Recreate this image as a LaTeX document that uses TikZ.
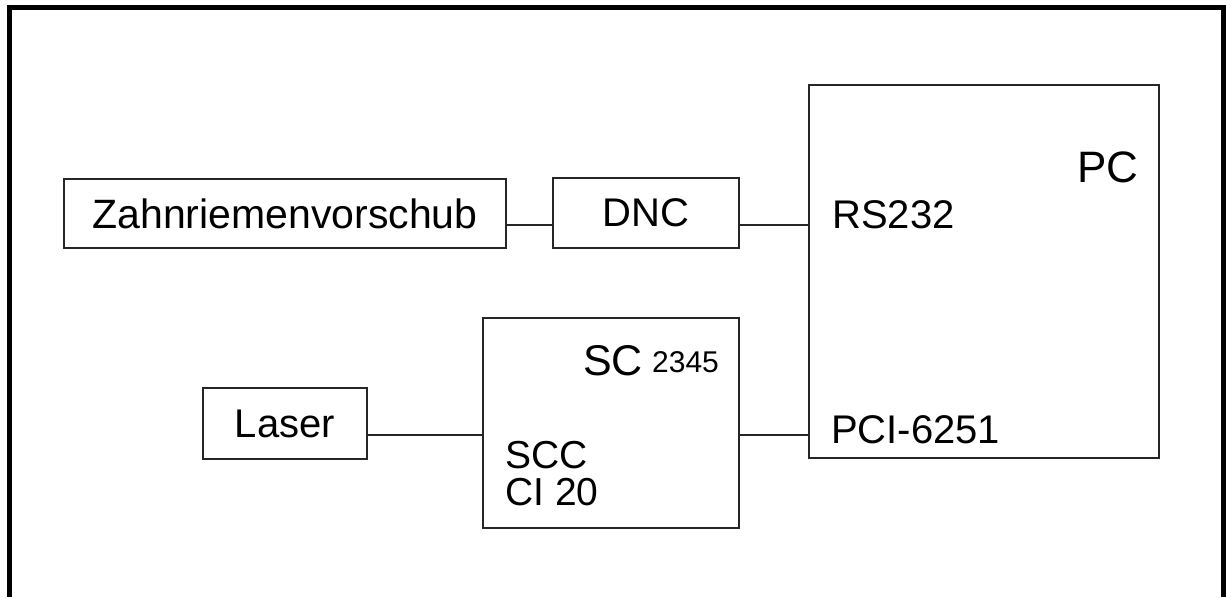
\documentclass[tikz,border=0pt]{standalone}
\usepackage{fontspec}
\setmainfont{Liberation Sans}
\begin{document}
\begin{tikzpicture}[x=1pt,y=-1pt,
  box/.style={draw=black!85, line width=1.5pt, inner sep=0pt, font=\fontsize{40}{48}\selectfont},
  lbl/.style={inner sep=0pt, anchor=base west, font=\fontsize{40}{48}\selectfont},
  wire/.style={draw=black!85, line width=1.5pt},
  frame/.style={line width=5pt}]
\useasboundingbox (0,0) rectangle (1226,597);
\draw[frame] (9.5,597) -- (9.5,7.5) -- (1223.5,7.5) -- (1223.5,597);
\node[box, minimum width=442pt, minimum height=69pt, font=\fontsize{41}{49}\selectfont] (zahn) at (285,213.5) {Zahnriemenvorschub};
\node[box, minimum width=186pt, minimum height=70pt] (dnc) at (646,213) {DNC};
\node[box, minimum width=164pt, minimum height=71pt] (laser) at (285,423.5) {Laser};
\node[box, minimum width=256pt, minimum height=210pt] (sc) at (611,423) {};
\node[box, minimum width=350pt, minimum height=373pt] (pc) at (984,271.5) {};
\node[lbl, font=\fontsize{44}{52}\selectfont] (pclbl) at (1077,182) {PC};
\node[lbl] (rs) at (832,228) {RS232};
\node[lbl] (pci) at (831,443) {PCI-6251};
\node[lbl, font=\fontsize{43}{50}\selectfont] (sclbl) at (583,375) {SC};
\node[lbl, font=\fontsize{30}{36}\selectfont] (num) at (652,372) {2345};
\node[lbl, font=\fontsize{39}{46}\selectfont] (scc) at (505,468) {SCC};
\node[lbl, font=\fontsize{39}{46}\selectfont] (ci) at (505,505) {CI 20};
\coordinate (z1) at ([yshift=-11.5pt]zahn.east);
\coordinate (d1) at ([yshift=-12pt]dnc.east);
\coordinate (l1) at ([yshift=-11.5pt]laser.east);
\coordinate (s1) at ([yshift=-12pt]sc.east);
\draw[wire] (z1) -- (dnc.west |- z1);
\draw[wire] (d1) -- (pc.west |- d1);
\draw[wire] (l1) -- (sc.west |- l1);
\draw[wire] (s1) -- (pc.west |- s1);
\end{tikzpicture}
\end{document}
